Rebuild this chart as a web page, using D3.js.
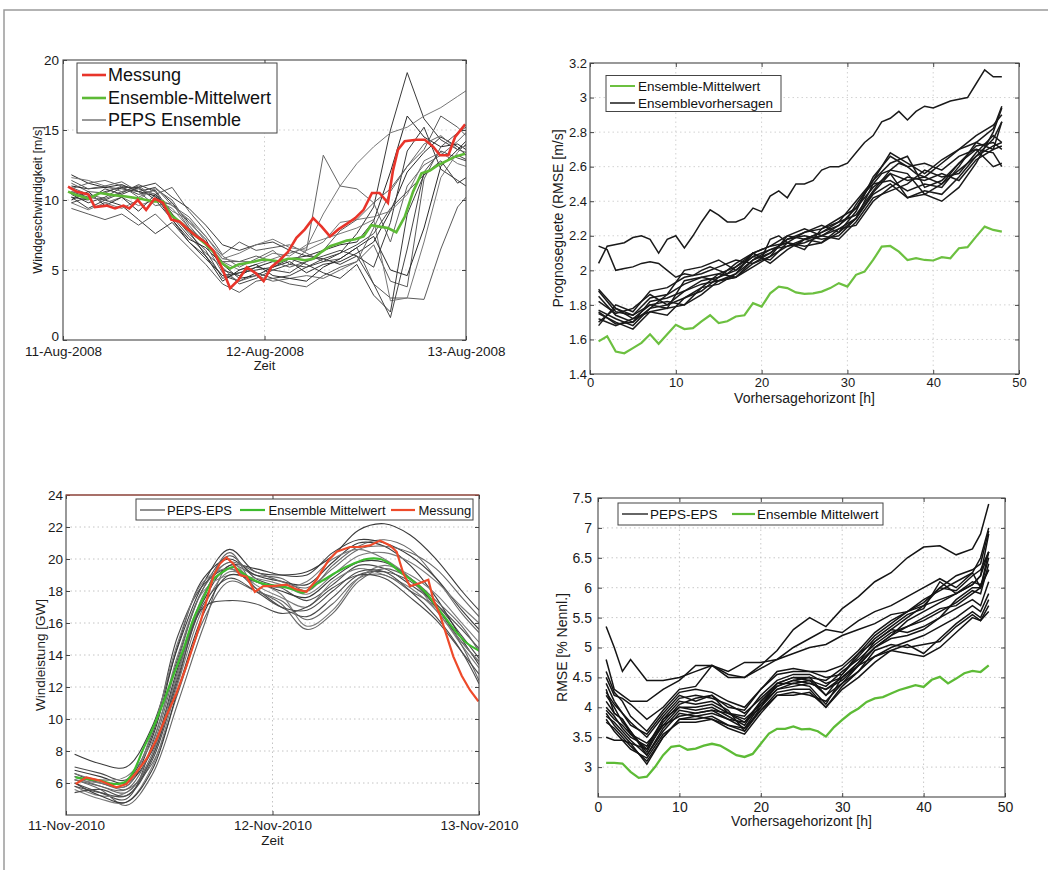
<!DOCTYPE html>
<html><head><meta charset="utf-8">
<script src="https://cdn.jsdelivr.net/npm/d3@7"></script>
<style>body{margin:0;background:#fff}svg{display:block}</style>
</head><body><script>
const FONT = '"Liberation Sans", Arial, sans-serif';

// ---------- Panel 1: Windgeschwindigkeit (Aug 2008) ----------
const P1_TICK_DATES = [new Date(2008,7,11), new Date(2008,7,12), new Date(2008,7,13)];
const P1_Y_TICKS = [0,5,10,15,20];
const P1_LEGEND = ["Messung","Ensemble-Mittelwert","PEPS Ensemble"];
const P1_MEMBER_HOURS = [1,3,5,7,9,11,13,15,17,19,21,23,25,27,29,31,33,35,37,39,41,43,45,47,48];
const P1_MEMBERS = [
 [11.8,11.2,10.9,10.8,10.6,10.9,9.8,8.4,7.2,5.0,4.6,5.2,5.6,5.8,6.0,6.4,6.8,7.0,8.5,12.0,16.0,14.5,13.8,14.0,13.6],
 [11.2,10.6,10.5,11.0,10.8,10.4,10.9,9.2,7.8,6.1,7.0,6.4,6.6,6.8,6.2,5.6,5.8,6.6,4.0,3.0,3.0,2.9,6.5,9.5,10.2],
 [10.2,9.4,10.0,9.6,8.6,7.6,8.4,7.0,6.0,4.6,4.2,4.8,4.4,4.6,5.2,5.8,6.2,7.6,9.5,15.0,19.1,15.8,14.3,13.6,13.9],
 [9.8,9.3,9.8,10.2,9.6,10.0,9.4,8.0,6.8,5.6,5.0,5.4,5.8,6.2,6.6,9.0,11.0,12.6,13.8,14.8,15.2,16.0,16.6,17.4,17.8],
 [10.6,10.2,10.6,10.9,10.4,10.7,9.0,7.6,6.4,4.4,4.8,5.2,5.0,4.8,5.6,6.0,6.4,6.0,4.0,1.6,6.5,12.0,13.5,13.0,12.8],
 [10.9,10.4,10.1,10.6,11.0,10.2,9.6,8.8,7.4,6.0,5.2,5.8,6.4,5.4,6.4,13.2,11.0,10.8,9.8,7.0,11.0,12.5,13.2,14.2,14.8],
 [11.0,10.8,10.9,11.1,10.6,10.3,8.6,7.2,6.6,5.4,4.4,4.6,5.2,5.6,4.8,5.4,5.6,6.2,7.0,9.2,12.0,13.4,14.5,13.8,13.2],
 [9.4,9.0,8.6,9.0,8.2,9.0,7.8,6.6,5.4,4.0,3.4,4.2,4.4,4.0,3.8,4.6,5.2,5.6,6.8,4.2,3.8,11.5,13.8,14.8,15.2],
 [10.4,9.8,10.2,10.9,10.9,11.2,10.2,9.4,8.2,6.8,6.4,6.8,7.0,6.4,6.0,5.8,5.4,6.0,5.2,8.4,13.5,15.2,12.2,11.4,11.0],
 [11.6,11.4,11.0,10.6,10.8,10.4,9.2,8.6,7.0,5.8,5.6,5.6,6.2,6.0,6.8,7.2,7.6,8.0,8.6,2.8,3.0,7.0,11.6,13.4,14.0],
 [9.8,10.2,10.0,10.5,11.1,10.6,8.8,7.4,6.2,5.2,4.0,4.4,5.0,5.4,5.2,5.6,6.2,6.8,7.6,9.4,10.6,11.8,12.6,13.2,12.9],
 [10.8,11.2,11.4,11.0,10.2,10.8,10.0,8.2,6.8,4.8,4.2,4.6,4.2,4.4,4.6,4.4,5.0,5.6,8.0,10.6,12.4,14.0,14.6,13.6,13.4],
 [10.0,10.6,9.6,10.2,9.2,10.4,9.0,7.8,6.0,4.2,5.0,5.4,4.6,4.4,4.2,5.2,5.8,6.6,7.4,5.0,4.6,8.0,12.4,13.6,14.2],
 [11.4,10.8,11.0,11.3,10.6,9.6,9.8,8.0,7.0,5.6,5.6,6.0,5.6,5.2,5.6,6.4,7.8,8.6,9.8,10.8,12.4,13.6,16.0,15.2,14.6],
 [10.2,10.0,10.8,10.4,10.9,10.0,8.6,7.0,5.8,4.6,4.8,5.0,5.2,5.8,5.4,4.8,4.4,5.4,3.2,2.0,9.0,11.8,12.8,11.2,11.6],
 [10.6,10.4,9.8,9.4,10.0,10.9,9.6,8.6,7.4,5.8,6.2,6.8,7.2,6.6,6.4,7.0,8.4,8.6,8.8,9.2,10.4,12.8,13.4,12.6,12.4]
];
const P1_RED_HOURS = [0.6,1.6,3,3.8,5.2,6.2,7.2,7.9,8.9,9.9,10.9,11.9,12.9,13.9,14.9,15.9,16.9,17.9,18.9,19.9,20.9,21.9,22.9,23.9,24.8,25.8,26.8,27.8,28.8,29.8,30.8,31.8,32.8,33.8,34.8,35.8,36.8,37.7,38.7,39.3,39.9,40.7,42.1,43.1,44.1,44.9,45.9,46.7,47.9];
const P1_RED = [10.95,10.6,10.4,9.5,9.6,9.4,9.6,9.4,10,9.3,10.1,9.8,8.6,8.45,7.9,7.4,7.0,6.4,5.2,3.7,4.3,5.2,4.8,4.2,5.2,5.7,6.3,7.3,7.9,8.7,8.1,7.4,7.9,8.3,8.7,9.3,10.5,10.5,9.8,12.1,13.6,14.2,14.3,14.3,13.8,13.2,13.2,14.5,15.4];
const P1_GREEN_HOURS = [0.6,1.6,3.0,4.4,6.0,7.5,9.1,10.7,11.9,12.9,13.9,14.9,15.9,16.9,17.9,18.9,19.9,20.9,21.9,22.8,23.8,24.8,25.8,26.8,27.8,28.8,29.8,30.8,31.8,32.8,33.8,34.8,35.8,36.7,37.7,38.7,39.7,40.7,41.7,42.7,43.7,44.7,45.7,46.7,47.9];
const P1_GREEN = [10.6,10.35,10.1,10.5,10.35,10.25,10.1,9.9,9.9,8.9,8.45,7.9,7.4,6.9,6.3,5.5,5.1,5.4,5.5,5.6,5.75,5.7,5.6,5.8,5.8,5.7,5.8,6.3,6.7,6.9,7.1,7.2,7.4,8.2,8.1,8.0,7.7,8.8,10.6,11.9,12.1,12.5,12.8,13.1,13.3];

// ---------- Panel 2: Prognoseguete RMSE [m/s] ----------
const P2_X_TICKS = [0,10,20,30,40,50];
const P2_Y_TICKS = [1.4,1.6,1.8,2.0,2.2,2.4,2.6,2.8,3.0,3.2];
const P2_LEGEND = ["Ensemble-Mittelwert","Ensemblevorhersagen"];
const HOURS_48 = [1,2,3,4,5,6,7,8,9,10,11,12,13,14,15,16,17,18,19,20,21,22,23,24,25,26,27,28,29,30,31,32,33,34,35,36,37,38,39,40,41,42,43,44,45,46,47,48];
const P2_GREEN = [1.589,1.618,1.53,1.52,1.55,1.58,1.63,1.575,1.63,1.685,1.66,1.665,1.705,1.74,1.695,1.705,1.733,1.74,1.81,1.79,1.867,1.906,1.897,1.872,1.864,1.867,1.877,1.897,1.926,1.906,1.974,1.993,2.06,2.137,2.141,2.108,2.06,2.07,2.06,2.057,2.076,2.07,2.128,2.134,2.195,2.253,2.234,2.224];
const P2_TOP_MEMBERS = [
 [2.04,2.14,2.15,2.16,2.19,2.20,2.18,2.10,2.18,2.2,2.13,2.2,2.28,2.35,2.32,2.28,2.28,2.3,2.36,2.34,2.43,2.46,2.42,2.5,2.5,2.52,2.58,2.6,2.6,2.62,2.68,2.74,2.78,2.86,2.88,2.92,2.87,2.92,2.95,2.94,2.96,2.98,2.99,3.0,3.08,3.16,3.12,3.12],
 [2.14,2.12,2.0,2.01,2.02,2.04,2.05,2.04,2.0,1.96,1.98,1.97,2.0,2.02,2.0,1.98,2.02,2.05,2.1,2.07,2.18,2.2,2.16,2.14,2.18,2.2,2.22,2.24,2.26,2.3,2.38,2.45,2.5,2.56,2.58,2.62,2.6,2.56,2.54,2.58,2.62,2.66,2.7,2.72,2.74,2.78,2.82,2.95]
];
const P2_BUNDLE_HOURS = [1,3,5,7,9,11,13,15,17,19,21,23,25,27,29,31,33,35,37,39,41,43,45,47,48];
const P2_BUNDLE = [
 [1.89,1.78,1.72,1.80,1.78,1.94,1.96,1.98,1.96,2.04,2.10,2.18,2.20,2.18,2.20,2.30,2.45,2.56,2.52,2.54,2.50,2.58,2.66,2.72,2.74],
 [1.88,1.76,1.74,1.84,1.86,2.0,2.02,2.06,2.0,2.08,2.12,2.16,2.22,2.24,2.30,2.36,2.52,2.68,2.62,2.56,2.64,2.70,2.78,2.84,2.90],
 [1.77,1.72,1.68,1.78,1.80,1.88,1.92,1.94,1.98,2.10,2.14,2.20,2.18,2.22,2.28,2.40,2.52,2.62,2.66,2.48,2.52,2.62,2.70,2.60,2.62],
 [1.75,1.70,1.66,1.76,1.74,1.84,1.88,1.96,2.0,2.08,2.06,2.16,2.14,2.16,2.22,2.30,2.44,2.50,2.42,2.46,2.44,2.54,2.66,2.76,2.86],
 [1.68,1.80,1.76,1.88,1.90,1.96,1.98,2.02,2.06,2.04,2.08,2.14,2.16,2.20,2.24,2.30,2.50,2.52,2.46,2.50,2.48,2.60,2.74,2.70,2.72],
 [1.85,1.74,1.70,1.82,1.84,1.88,1.94,1.96,2.04,2.10,2.04,2.12,2.18,2.20,2.26,2.36,2.48,2.56,2.42,2.44,2.40,2.48,2.62,2.80,2.94],
 [1.70,1.78,1.74,1.80,1.82,1.80,1.90,1.92,1.98,2.06,2.10,2.18,2.22,2.26,2.22,2.34,2.54,2.66,2.60,2.62,2.58,2.66,2.70,2.68,2.60],
 [1.76,1.69,1.70,1.78,1.86,1.92,1.96,1.94,1.96,2.02,2.08,2.20,2.24,2.20,2.18,2.28,2.42,2.46,2.50,2.58,2.54,2.56,2.68,2.78,2.74],
 [1.82,1.75,1.78,1.86,1.80,1.84,1.90,1.98,2.02,2.10,2.14,2.16,2.12,2.24,2.28,2.32,2.46,2.58,2.56,2.44,2.50,2.62,2.72,2.74,2.70],
 [1.72,1.68,1.72,1.76,1.78,1.80,1.86,1.94,1.96,2.06,2.12,2.14,2.18,2.16,2.24,2.26,2.40,2.48,2.54,2.52,2.56,2.52,2.64,2.70,2.86]
];

// ---------- Panel 3: Windleistung [GW] (Nov 2010) ----------
const P3_TICK_DATES = [new Date(2010,10,11), new Date(2010,10,12), new Date(2010,10,13)];
const P3_Y_TICKS = [6,8,10,12,14,16,18,20,22,24];
const P3_LEGEND = ["PEPS-EPS","Ensemble Mittelwert","Messung"];
const P3_MEMBER_HOURS = [1,4,7,10,13,16,19,22,25,28,31,34,37,40,43,46,48];
const P3_MEMBERS = [
 [7.8,7.2,7.0,9.5,14.5,18.5,20.6,19.2,19.0,19.2,20.2,21.8,22.2,21.5,20.0,18.0,16.8],
 [6.2,5.6,4.6,6.5,11.0,15.8,19.6,19.0,18.8,18.0,19.6,20.8,21.2,20.6,18.8,16.6,15.4],
 [6.0,5.4,5.0,8.4,13.8,18.2,20.2,18.8,18.2,17.4,18.4,19.6,19.4,18.4,17.2,15.2,13.8],
 [5.8,5.2,5.4,7.6,12.8,17.8,19.8,18.4,17.6,17.0,18.6,19.4,19.0,18.2,16.8,14.6,13.2],
 [6.6,6.0,5.8,8.8,14.6,18.8,20.0,19.0,18.6,18.4,19.8,21.0,20.8,19.6,17.6,15.0,13.4],
 [6.4,6.0,5.6,7.2,11.6,16.2,18.6,18.0,17.4,16.2,17.2,18.8,19.0,18.0,17.0,14.6,12.4],
 [7.0,6.6,6.2,9.0,15.2,18.4,19.4,18.2,17.0,16.4,17.6,19.0,19.2,18.6,17.2,15.6,14.4],
 [5.6,5.0,4.8,7.0,12.2,17.0,19.2,18.6,17.8,15.8,16.8,18.8,19.6,19.0,17.8,16.0,14.8],
 [6.8,6.4,6.0,8.0,13.2,17.4,19.6,19.4,19.0,19.0,20.4,21.2,21.0,20.2,18.8,16.8,15.6],
 [6.2,5.8,5.4,7.8,13.0,17.6,20.4,18.2,17.2,15.6,16.6,18.6,19.4,18.8,17.4,15.8,14.2],
 [5.4,5.6,5.2,7.4,12.4,17.0,17.4,17.2,16.6,17.0,18.2,19.0,18.8,17.6,16.2,14.2,12.8],
 [6.6,6.2,6.4,8.6,14.0,18.0,19.0,18.8,18.4,17.8,19.0,20.2,20.4,19.8,18.6,17.0,16.0],
 [6.0,5.2,4.8,6.8,11.8,16.6,19.0,18.6,18.0,17.6,18.8,19.8,19.8,18.8,17.0,14.8,13.6],
 [6.4,5.8,5.6,8.2,13.6,18.2,19.8,19.2,18.6,18.2,19.4,20.6,20.8,20.4,19.4,17.6,16.4],
 [5.8,5.4,5.2,7.6,12.6,17.2,18.8,18.0,17.0,16.8,18.0,19.2,19.2,18.0,16.4,14.2,12.2],
 [6.2,6.0,5.8,9.2,14.8,18.6,19.4,18.6,18.2,18.6,20.0,20.6,20.0,18.8,16.8,14.8,13.6]
];
const P3_RED_HOURS = [1.12,2.37,3.92,5.86,7.02,8.18,9.35,10.51,11.67,12.83,14.0,15.16,16.13,17.1,17.88,18.65,19.43,20.2,20.98,21.95,22.92,24.08,25.63,26.8,27.96,29.12,29.9,30.48,31.45,33.0,34.16,35.33,36.49,37.65,38.43,39.2,39.98,41.14,42.11,42.7,43.47,44.25,45.02,45.99,46.96,47.93];
const P3_RED = [5.94,6.35,6.15,5.73,5.94,6.66,7.5,8.7,10.2,11.6,13.3,15.2,17.0,18.9,19.7,20.1,19.7,19.0,18.9,17.95,18.3,18.3,18.4,18.1,17.95,18.7,19.4,19.9,20.45,20.75,20.75,20.85,21.15,20.85,20.45,19.1,18.3,18.5,18.7,17.45,16.5,15.2,13.9,12.7,11.8,11.1];
const P3_GREEN_HOURS = [1.12,2.37,3.92,5.47,6.82,7.79,8.96,10.12,11.28,12.45,13.61,14.77,15.94,17.1,18.26,19.43,20.59,21.75,23.3,24.85,26.4,27.57,28.73,30.28,31.83,33.38,34.93,36.49,37.65,38.81,40.36,41.91,43.08,44.25,45.41,46.57,47.93];
const P3_GREEN = [6.35,6.25,6.15,5.94,6.05,6.66,8.1,9.45,11.0,12.7,14.3,16.2,17.55,18.7,19.2,19.5,19.1,18.7,18.4,18.3,18.1,17.9,18.3,18.8,19.3,19.7,20.0,20.0,19.7,19.2,18.6,17.85,17.0,16.2,15.4,14.75,14.3];

// ---------- Panel 4: RMSE [% Nennl.] ----------
const P4_X_TICKS = [0,10,20,30,40,50];
const P4_Y_TICKS = [3,3.5,4,4.5,5,5.5,6,6.5,7,7.5];
const P4_LEGEND = ["PEPS-EPS","Ensemble Mittelwert"];
const P4_GREEN = [3.07,3.07,3.06,2.92,2.82,2.84,3.0,3.2,3.34,3.36,3.29,3.31,3.36,3.39,3.36,3.28,3.2,3.17,3.22,3.39,3.56,3.64,3.64,3.68,3.63,3.64,3.6,3.51,3.67,3.79,3.9,3.98,4.09,4.15,4.17,4.23,4.29,4.33,4.37,4.34,4.46,4.51,4.4,4.48,4.57,4.61,4.59,4.7];
const P4_MEMBER_HOURS = [1,2,3,4,6,8,10,12,14,16,18,20,22,24,26,28,30,32,34,36,38,40,42,44,46,47,48];
const P4_MEMBERS = [
 [5.35,5.0,4.6,4.8,4.45,4.45,4.5,4.6,4.7,4.55,4.5,4.7,4.95,5.3,5.5,5.35,5.65,5.85,6.1,6.25,6.5,6.68,6.7,6.55,6.65,6.9,7.4],
 [4.8,4.3,4.2,4.1,4.1,4.3,4.45,4.7,4.7,4.6,4.75,4.75,4.8,5.0,5.15,5.3,5.25,5.45,5.6,5.7,5.85,6.0,6.15,6.0,6.25,6.5,7.0],
 [4.4,4.1,3.9,3.7,3.55,3.9,4.2,4.1,4.2,4.0,3.95,4.3,4.55,4.6,4.6,4.5,4.55,4.9,5.1,5.3,5.5,5.7,5.8,5.9,6.05,6.2,6.6],
 [4.3,3.9,3.8,3.55,3.3,3.8,4.0,3.95,4.0,3.85,3.7,4.1,4.35,4.45,4.5,4.2,4.4,4.7,5.0,5.2,5.35,5.5,5.65,5.7,5.9,6.0,6.3],
 [4.2,4.0,3.75,3.6,3.2,3.6,3.9,3.85,3.9,3.8,3.75,4.0,4.3,4.4,4.35,4.05,4.5,4.75,5.1,5.3,5.25,5.35,5.5,5.8,6.0,6.0,6.5],
 [3.9,3.7,3.55,3.4,3.05,3.5,3.8,3.8,3.85,3.7,3.6,3.95,4.25,4.3,4.3,4.0,4.35,4.6,4.85,5.0,5.1,5.2,5.35,5.5,5.7,5.6,5.9],
 [3.8,3.6,3.45,3.3,3.15,3.55,3.75,3.75,3.8,3.65,3.55,3.9,4.2,4.25,4.2,4.1,4.4,4.6,4.95,5.05,5.0,5.05,5.1,5.35,5.55,5.45,5.7],
 [3.5,3.45,3.45,3.4,3.3,3.7,3.85,3.9,3.95,3.9,3.8,4.05,4.3,4.35,4.4,4.3,4.5,4.7,4.85,4.95,4.9,4.85,5.0,5.25,5.5,5.45,5.6],
 [4.1,3.9,3.8,3.6,3.25,3.75,4.05,4.15,4.2,3.9,3.85,4.2,4.45,4.55,4.55,4.4,4.5,4.75,5.0,5.2,5.45,5.6,5.75,5.9,6.1,6.05,6.3],
 [4.5,4.2,4.15,4.05,3.8,4.0,4.3,4.35,4.7,4.5,4.5,4.65,4.8,4.9,5.0,5.05,5.2,5.3,5.4,5.55,5.6,5.7,6.0,5.95,6.2,6.3,6.6],
 [4.0,3.85,3.65,3.5,3.35,3.8,4.1,4.05,4.1,3.95,3.6,4.0,4.4,4.4,4.45,4.2,4.55,4.85,5.15,5.35,5.55,5.65,6.1,5.9,6.05,6.2,6.9],
 [3.85,3.75,3.6,3.45,3.2,3.65,3.95,3.9,3.95,3.8,3.65,4.05,4.35,4.45,4.4,4.3,4.45,4.7,5.0,5.15,5.2,5.3,5.5,5.65,5.8,5.7,6.1],
 [4.25,4.05,3.9,3.75,3.5,3.85,4.15,4.2,4.15,4.05,3.9,4.15,4.4,4.5,4.5,4.45,4.65,4.9,5.2,5.4,5.6,5.8,5.95,6.1,6.25,6.0,6.6],
 [3.75,3.65,3.5,3.35,3.1,3.5,3.8,3.85,3.8,3.7,3.65,3.95,4.2,4.2,4.25,4.0,4.3,4.5,4.75,4.95,5.05,4.9,5.15,5.4,5.6,5.5,5.8],
 [4.6,4.25,4.1,3.85,3.6,3.95,4.25,4.3,4.25,4.1,4.0,4.3,4.6,4.65,4.6,4.6,4.7,4.95,5.25,5.45,5.6,5.75,6.0,6.2,6.3,6.4,6.95],
 [3.95,3.8,3.7,3.55,3.4,3.7,4.0,4.0,4.05,3.9,3.75,4.1,4.4,4.5,4.45,4.35,4.6,4.8,5.05,5.25,5.35,5.45,5.6,5.75,5.95,5.9,6.4]
];

// ---------- drawing ----------
const svg = d3.select('body').append('svg').attr('width',1048).attr('height',870);
svg.append('rect').attr('width',1048).attr('height',870).attr('fill','#fff');
svg.append('path').attr('d','M4,870 V10 H1048').attr('fill','none').attr('stroke','#9a9a9a').attr('stroke-width',1.5);

const RED = '#e8342a', GREEN = '#5dba36';
const numFmt = d => String(+d.toFixed(1));
const dateFmt = d3.timeFormat('%d-%b-%Y');

function startPanel(o){
  const [L,R] = o.x.range(), [B,T] = o.y.range();
  const g = svg.append('g');
  g.selectAll(null).data(o.yGrid).join('line')
    .attr('x1',L).attr('x2',R).attr('y1',d=>o.y(d)).attr('y2',d=>o.y(d))
    .attr('stroke',o.gridColor).attr('stroke-width',1).attr('stroke-dasharray','1.5,3');
  g.selectAll(null).data(o.xGrid).join('line')
    .attr('y1',T).attr('y2',B).attr('x1',d=>o.x(d)).attr('x2',d=>o.x(d))
    .attr('stroke',o.gridColor).attr('stroke-width',1).attr('stroke-dasharray','1.5,3');
  svg.append('clipPath').attr('id','clip'+o.id).append('rect')
    .attr('x',L).attr('y',T).attr('width',R-L).attr('height',B-T);
  return svg.append('g').attr('clip-path',`url(#clip${o.id})`);
}

function finishPanel(o){
  const [L,R] = o.x.range(), [B,T] = o.y.range();
  svg.append('rect').attr('x',L).attr('y',T).attr('width',R-L).attr('height',B-T)
    .attr('fill','none').attr('stroke','#454545').attr('stroke-width',1.1);
  const axB = svg.append('g').attr('transform',`translate(0,${B})`)
    .call(d3.axisBottom(o.x).tickValues(o.xTicks).tickFormat(o.xFmt).tickSizeInner(-4).tickSizeOuter(0).tickPadding(o.padX));
  const axL = svg.append('g').attr('transform',`translate(${L},0)`)
    .call(d3.axisLeft(o.y).tickValues(o.yTicks).tickFormat(o.yFmt).tickSizeInner(-4).tickSizeOuter(0).tickPadding(o.padY));
  const axT = svg.append('g').attr('transform',`translate(0,${T})`)
    .call(d3.axisTop(o.x).tickValues(o.xTicks).tickFormat('').tickSizeInner(-4).tickSizeOuter(0));
  const axR = svg.append('g').attr('transform',`translate(${R},0)`)
    .call(d3.axisRight(o.y).tickValues(o.yTicks).tickFormat('').tickSizeInner(-4).tickSizeOuter(0));
  [axB,axL,axT,axR].forEach(a=>{
    a.attr('font-family',FONT).attr('font-size',o.fs);
    a.select('.domain').remove();
    a.selectAll('line').attr('stroke','#454545');
    a.selectAll('text').attr('fill','#1a1a1a');
  });
  if (o.lowYTickDy) axL.selectAll('.tick text').filter(d=>d===o.yTicks[0]).attr('dy',o.lowYTickDy);
  svg.append('text').attr('x',(L+R)/2).attr('y',o.xLabelY).attr('dy','0.35em')
    .attr('text-anchor','middle').attr('font-family',FONT).attr('font-size',o.lfs).attr('fill','#1a1a1a').text(o.xLabel);
  svg.append('text').attr('transform',`translate(${o.yLabelX},${(T+B)/2}) rotate(-90)`).attr('dy','0.35em')
    .attr('text-anchor','middle').attr('font-family',FONT).attr('font-size',o.ylfs).attr('fill','#1a1a1a').text(o.yLabel);
}

function legendBox(b){
  svg.append('rect').attr('x',b.x).attr('y',b.y).attr('width',b.w).attr('height',b.h)
    .attr('fill','#fff').attr('stroke','#454545').attr('stroke-width',1);
  b.items.forEach(it=>{
    svg.append('line').attr('x1',it.x1).attr('x2',it.x2).attr('y1',it.y).attr('y2',it.y)
      .attr('stroke',it.color).attr('stroke-width',it.w);
    svg.append('text').attr('x',it.tx).attr('y',it.y).attr('dy','0.35em')
      .attr('font-family',FONT).attr('font-size',b.fs).attr('fill','#111').text(it.label);
  });
}

// ===== Panel 1 =====
{
  const base1 = P1_TICK_DATES[0];
  const t = h => new Date(base1.getTime() + h*3600000);
  const x = d3.scaleTime().domain([P1_TICK_DATES[0], P1_TICK_DATES[2]]).range([63,466]);
  const y = d3.scaleLinear().domain([0,20]).range([340,60]);
  const o = {id:1,x,y,xTicks:P1_TICK_DATES,yTicks:P1_Y_TICKS,xFmt:dateFmt,yFmt:numFmt,
    xGrid:[P1_TICK_DATES[1]],yGrid:[5,10,15],gridColor:'#cfcfcf',fs:13.5,padX:6.5,padY:4,lowYTickDy:'0.05em',
    xLabel:'Zeit',xLabelY:365,lfs:13,yLabel:'Windgeschwindigkeit [m/s]',yLabelX:38,ylfs:12.5};
  const plot = startPanel(o);
  const line = d3.line().x(d=>x(t(d[0]))).y(d=>y(d[1]));
  const memColors = ['#2a2a2a','#5a5a5a','#3a3a3a','#777','#444','#666'];
  P1_MEMBERS.forEach((m,i)=>{
    plot.append('path').attr('d',line(m.map((v,j)=>[P1_MEMBER_HOURS[j],v])))
      .attr('fill','none').attr('stroke',memColors[i%memColors.length]).attr('stroke-width',1);
  });
  plot.append('path').attr('d',line(P1_GREEN.map((v,j)=>[P1_GREEN_HOURS[j],v])))
    .attr('fill','none').attr('stroke',GREEN).attr('stroke-width',2.6);
  plot.append('path').attr('d',line(P1_RED.map((v,j)=>[P1_RED_HOURS[j],v])))
    .attr('fill','none').attr('stroke',RED).attr('stroke-width',2.6);
  finishPanel(o);
  legendBox({x:77,y:63,w:200,h:70,fs:18,items:[
    {label:P1_LEGEND[0],color:RED,w:2.6,x1:82,x2:106,tx:108,y:75},
    {label:P1_LEGEND[1],color:GREEN,w:2.6,x1:82,x2:106,tx:108,y:98},
    {label:P1_LEGEND[2],color:'#333',w:1,x1:82,x2:106,tx:108,y:120}]});
}

// ===== Panel 2 =====
{
  const x = d3.scaleLinear().domain([0,50]).range([590,1019]);
  const y = d3.scaleLinear().domain([1.4,3.2]).range([374,63]);
  const o = {id:2,x,y,xTicks:P2_X_TICKS,yTicks:P2_Y_TICKS,xFmt:numFmt,yFmt:numFmt,
    xGrid:[10,20,30,40],yGrid:[1.6,1.8,2.0,2.2,2.4,2.6,2.8,3.0],gridColor:'#d2d2d2',fs:13,padX:4,padY:3,
    xLabel:'Vorhersagehorizont [h]',xLabelY:398,lfs:14,yLabel:'Prognoseguete (RMSE [m/s]',yLabelX:558,ylfs:14};
  const plot = startPanel(o);
  const line = d3.line().x(d=>x(d[0])).y(d=>y(d[1]));
  P2_BUNDLE.forEach(m=>{
    plot.append('path').attr('d',line(m.map((v,j)=>[P2_BUNDLE_HOURS[j],v])))
      .attr('fill','none').attr('stroke','#1a1a1a').attr('stroke-width',1.5);
  });
  P2_TOP_MEMBERS.forEach(m=>{
    plot.append('path').attr('d',line(m.map((v,j)=>[HOURS_48[j],v])))
      .attr('fill','none').attr('stroke','#1a1a1a').attr('stroke-width',1.5);
  });
  plot.append('path').attr('d',line(P2_GREEN.map((v,j)=>[HOURS_48[j],v])))
    .attr('fill','none').attr('stroke','#6cc040').attr('stroke-width',2.2);
  finishPanel(o);
  legendBox({x:606,y:75.5,w:175,h:36,fs:13.5,items:[
    {label:P2_LEGEND[0],color:'#6cc040',w:2,x1:610,x2:635,tx:638,y:86},
    {label:P2_LEGEND[1],color:'#1a1a1a',w:1.5,x1:610,x2:635,tx:638,y:103}]});
}

// ===== Panel 3 =====
{
  const base3 = P3_TICK_DATES[0];
  const t = h => new Date(base3.getTime() + h*3600000);
  const x = d3.scaleTime().domain([P3_TICK_DATES[0], P3_TICK_DATES[2]]).range([66,479]);
  const y = d3.scaleLinear().domain([4,24]).range([815,495]);
  const o = {id:3,x,y,xTicks:P3_TICK_DATES,yTicks:P3_Y_TICKS,xFmt:dateFmt,yFmt:numFmt,
    xGrid:[P3_TICK_DATES[1]],yGrid:[6,8,10,12,14,16,18,20,22],gridColor:'#c4c4c4',fs:13.5,padX:5,padY:3,
    xLabel:'Zeit',xLabelY:840,lfs:13.5,yLabel:'Windleistung [GW]',yLabelX:40,ylfs:13.5};
  const plot = startPanel(o);
  const smooth = d3.line().x(d=>x(t(d[0]))).y(d=>y(d[1])).curve(d3.curveCatmullRom.alpha(0.5));
  const lin = d3.line().x(d=>x(t(d[0]))).y(d=>y(d[1]));
  const memColors = ['#3a3a3a','#666','#4a4a4a','#7a7a7a'];
  P3_MEMBERS.forEach((m,i)=>{
    plot.append('path').attr('d',smooth(m.map((v,j)=>[P3_MEMBER_HOURS[j],v])))
      .attr('fill','none').attr('stroke',memColors[i%memColors.length]).attr('stroke-width',1.1);
  });
  plot.append('path').attr('d',smooth(P3_GREEN.map((v,j)=>[P3_GREEN_HOURS[j],v])))
    .attr('fill','none').attr('stroke','#3dbb2e').attr('stroke-width',2.2);
  plot.append('path').attr('d',lin(P3_RED.map((v,j)=>[P3_RED_HOURS[j],v])))
    .attr('fill','none').attr('stroke','#ee4a2a').attr('stroke-width',2.2);
  finishPanel(o);
  svg.append('line').attr('x1',66).attr('x2',479).attr('y1',495).attr('y2',495).attr('stroke','#b8483a').attr('stroke-width',1.2);
  legendBox({x:136,y:499,w:337,h:21,fs:13,items:[
    {label:P3_LEGEND[0],color:'#222',w:1,x1:140,x2:165,tx:167,y:510},
    {label:P3_LEGEND[1],color:'#3dbb2e',w:2.2,x1:240,x2:265,tx:268.5,y:510},
    {label:P3_LEGEND[2],color:'#ee4a2a',w:2.2,x1:391,x2:415,tx:418.5,y:510}]});
}

// ===== Panel 4 =====
{
  const x = d3.scaleLinear().domain([0,50]).range([598,1005]);
  const y = d3.scaleLinear().domain([2.5,7.5]).range([797,498]);
  const o = {id:4,x,y,xTicks:P4_X_TICKS,yTicks:P4_Y_TICKS,xFmt:numFmt,yFmt:numFmt,
    xGrid:[10,20,30,40],yGrid:[3,3.5,4,4.5,5,5.5,6,6.5,7],gridColor:'#c8c8c8',fs:14,padX:5,padY:6,
    xLabel:'Vorhersagehorizont [h]',xLabelY:821,lfs:14,yLabel:'RMSE [% Nennl.]',yLabelX:562,ylfs:14};
  const plot = startPanel(o);
  const line = d3.line().x(d=>x(d[0])).y(d=>y(d[1]));
  P4_MEMBERS.forEach(m=>{
    plot.append('path').attr('d',line(m.map((v,j)=>[P4_MEMBER_HOURS[j],v])))
      .attr('fill','none').attr('stroke','#141414').attr('stroke-width',1.5);
  });
  plot.append('path').attr('d',line(P4_GREEN.map((v,j)=>[HOURS_48[j],v])))
    .attr('fill','none').attr('stroke','#5dbb36').attr('stroke-width',2.3);
  finishPanel(o);
  legendBox({x:618,y:503,w:265,h:22,fs:13.5,items:[
    {label:P4_LEGEND[0],color:'#141414',w:1.3,x1:622,x2:648,tx:650,y:514},
    {label:P4_LEGEND[1],color:'#5dbb36',w:2.2,x1:732,x2:755,tx:757,y:514}]});
}
</script></body></html>
